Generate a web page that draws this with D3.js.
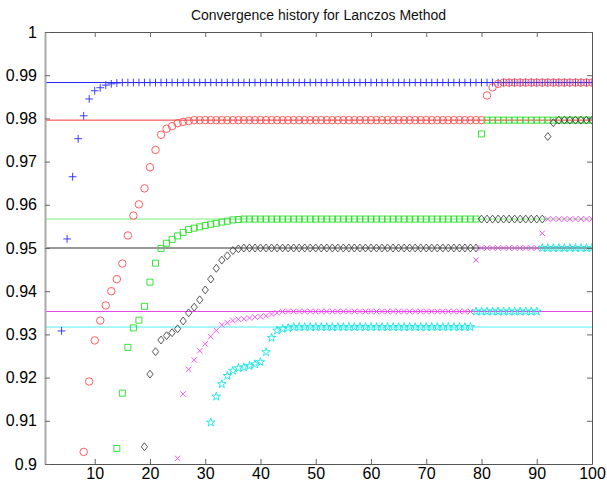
<!DOCTYPE html>
<html>
<head>
<meta charset="utf-8">
<script src="https://cdn.jsdelivr.net/npm/d3@7"></script>
<style>
  body { margin: 0; background: #fff; }
  svg { font-family: "Liberation Sans", Arial, sans-serif; }
</style>
</head>
<body>
<div id="chart"></div>
<script>
// SVG parameter
var svgWidth = 607;
var svgHeight = 486;

var margin = {
    top: 32,
    right: 15,
    bottom: 22,
    left: 45
};

var chartWidth = svgWidth - margin.left - margin.right;
var chartHeight = svgHeight - margin.top - margin.bottom;

// Tick values and labels
var xTicks = [10, 20, 30, 40, 50, 60, 70, 80, 90, 100];
var xTickLabels = ["10", "20", "30", "40", "50", "60", "70", "80", "90", "100"];
var yTicks = [0.9, 0.91, 0.92, 0.93, 0.94, 0.95, 0.96, 0.97, 0.98, 0.99, 1];
var yTickLabels = ["0.9", "0.91", "0.92", "0.93", "0.94", "0.95", "0.96", "0.97", "0.98", "0.99", "1"];

// Converged eigenvalues (horizontal reference lines)
var refValues = [0.9883, 0.9796, 0.9567, 0.9500, 0.9353, 0.9317];

// Ritz values per iteration, first visible iteration given by *Start
var blueStart = 4;
var blueVals = [
    0.9308, 0.9521, 0.9665, 0.9753, 0.9806, 0.9845, 0.9864, 0.9871, 0.9877, 0.9880, 0.9882,
    0.9883, 0.9883, 0.9883, 0.9883, 0.9883, 0.9883, 0.9883, 0.9883, 0.9883, 0.9883,
    0.9883, 0.9883, 0.9883, 0.9883, 0.9883, 0.9883, 0.9883, 0.9883, 0.9883, 0.9883,
    0.9883, 0.9883, 0.9883, 0.9883, 0.9883, 0.9883, 0.9883, 0.9883, 0.9883, 0.9883,
    0.9883, 0.9883, 0.9883, 0.9883, 0.9883, 0.9883, 0.9883, 0.9883, 0.9883, 0.9883,
    0.9883, 0.9883, 0.9883, 0.9883, 0.9883, 0.9883, 0.9883, 0.9883, 0.9883, 0.9883,
    0.9883, 0.9883, 0.9883, 0.9883, 0.9883, 0.9883, 0.9883, 0.9883, 0.9883, 0.9883,
    0.9883, 0.9883, 0.9883, 0.9883, 0.9883, 0.9883, 0.9883, 0.9883, 0.9883, 0.9883,
    0.9883, 0.9883, 0.9883, 0.9883, 0.9883, 0.9883, 0.9883, 0.9883, 0.9883, 0.9883,
    0.9883, 0.9883, 0.9883, 0.9883, 0.9883, 0.9883
];

var redStart = 8;
var redVals = [
    0.9028, 0.9191, 0.9286, 0.9332, 0.9367, 0.9400, 0.9428, 0.9464, 0.9529, 0.9575,
    0.9601, 0.9638, 0.9687, 0.9727, 0.9762, 0.9776, 0.9782, 0.9789, 0.9792, 0.9794,
    0.9796, 0.9796, 0.9796, 0.9796, 0.9796, 0.9796, 0.9796, 0.9796, 0.9796, 0.9796,
    0.9796, 0.9796, 0.9796, 0.9796, 0.9796, 0.9796, 0.9796, 0.9796, 0.9796, 0.9796,
    0.9796, 0.9796, 0.9796, 0.9796, 0.9796, 0.9796, 0.9796, 0.9796, 0.9796, 0.9796,
    0.9796, 0.9796, 0.9796, 0.9796, 0.9796, 0.9796, 0.9796, 0.9796, 0.9796, 0.9796,
    0.9796, 0.9796, 0.9796, 0.9796, 0.9796, 0.9796, 0.9796, 0.9796, 0.9796, 0.9796,
    0.9796, 0.9796, 0.9796,
    0.9853, 0.9872, 0.9880,
    0.9883, 0.9883, 0.9883, 0.9883, 0.9883, 0.9883, 0.9883, 0.9883, 0.9883, 0.9883,
    0.9883, 0.9883, 0.9883, 0.9883, 0.9883, 0.9883, 0.9883
];

var greenStart = 14;
var greenVals = [
    0.9036, 0.9164, 0.9270, 0.9315, 0.9333, 0.9365, 0.9421, 0.9465, 0.9499, 0.9511,
    0.9520, 0.9528, 0.9536, 0.9543, 0.9546, 0.9549, 0.9552, 0.9555, 0.9557, 0.9560,
    0.9562, 0.9565, 0.9566,
    0.9567, 0.9567, 0.9567, 0.9567, 0.9567, 0.9567, 0.9567, 0.9567, 0.9567, 0.9567,
    0.9567, 0.9567, 0.9567, 0.9567, 0.9567, 0.9567, 0.9567, 0.9567, 0.9567, 0.9567,
    0.9567, 0.9567, 0.9567, 0.9567, 0.9567, 0.9567, 0.9567, 0.9567, 0.9567, 0.9567,
    0.9567, 0.9567, 0.9567, 0.9567, 0.9567, 0.9567, 0.9567, 0.9567, 0.9567, 0.9567,
    0.9567, 0.9567, 0.9567,
    0.9764,
    0.9796, 0.9796, 0.9796, 0.9796, 0.9796, 0.9796, 0.9796, 0.9796, 0.9796, 0.9796,
    0.9796, 0.9796, 0.9796, 0.9796, 0.9796, 0.9796, 0.9796, 0.9796, 0.9796, 0.9796
];

var blackStart = 19;
var blackVals = [
    0.9040, 0.9208, 0.9260, 0.9287, 0.9297, 0.9304, 0.9313, 0.9331, 0.9350, 0.9363,
    0.9380, 0.9403, 0.9428, 0.9453, 0.9472, 0.9482, 0.9494, 0.9498,
    0.9500, 0.9500, 0.9500, 0.9500, 0.9500, 0.9500, 0.9500, 0.9500, 0.9500, 0.9500,
    0.9500, 0.9500, 0.9500, 0.9500, 0.9500, 0.9500, 0.9500, 0.9500, 0.9500, 0.9500,
    0.9500, 0.9500, 0.9500, 0.9500, 0.9500, 0.9500, 0.9500, 0.9500, 0.9500, 0.9500,
    0.9500, 0.9500, 0.9500, 0.9500, 0.9500, 0.9500, 0.9500, 0.9500, 0.9500, 0.9500,
    0.9500, 0.9500, 0.9500,
    0.9567, 0.9567, 0.9567, 0.9567, 0.9567, 0.9567, 0.9567, 0.9567, 0.9567, 0.9567,
    0.9567, 0.9567,
    0.9758, 0.9790,
    0.9796, 0.9796, 0.9796, 0.9796, 0.9796, 0.9796, 0.9796
];

var magentaStart = 25;
var magentaVals = [
    0.9013, 0.9162, 0.9219, 0.9241, 0.9262, 0.9278, 0.9295, 0.9309, 0.9322, 0.9327,
    0.9332, 0.9335, 0.9336, 0.9338, 0.9340, 0.9341, 0.9343, 0.9347, 0.9350,
    0.9353, 0.9353, 0.9353, 0.9353, 0.9353, 0.9353, 0.9353, 0.9353, 0.9353, 0.9353,
    0.9353, 0.9353, 0.9353, 0.9353, 0.9353, 0.9353, 0.9353, 0.9353, 0.9353, 0.9353,
    0.9353, 0.9353, 0.9353, 0.9353, 0.9353, 0.9353, 0.9353, 0.9353, 0.9353, 0.9353,
    0.9353, 0.9353, 0.9353, 0.9353, 0.9353,
    0.9472,
    0.9500, 0.9500, 0.9500, 0.9500, 0.9500, 0.9500, 0.9500, 0.9500, 0.9500, 0.9500,
    0.9500,
    0.9534,
    0.9567, 0.9567, 0.9567, 0.9567, 0.9567, 0.9567, 0.9567, 0.9567, 0.9567
];

var cyanStart = 31;
var cyanVals = [
    0.9096, 0.9156, 0.9185, 0.9204, 0.9216, 0.9222, 0.9224, 0.9227, 0.9231, 0.9236,
    0.9259, 0.9292, 0.9309, 0.9313, 0.9315,
    0.9317, 0.9317, 0.9317, 0.9317, 0.9317, 0.9317, 0.9317, 0.9317, 0.9317, 0.9317,
    0.9317, 0.9317, 0.9317, 0.9317, 0.9317, 0.9317, 0.9317, 0.9317, 0.9317, 0.9317,
    0.9317, 0.9317, 0.9317, 0.9317, 0.9317, 0.9317, 0.9317, 0.9317, 0.9317, 0.9317,
    0.9317, 0.9317, 0.9317,
    0.9353, 0.9353, 0.9353, 0.9353, 0.9353, 0.9353, 0.9353, 0.9353, 0.9353, 0.9353,
    0.9353, 0.9353,
    0.9500, 0.9500, 0.9500, 0.9500, 0.9500, 0.9500, 0.9500, 0.9500, 0.9500, 0.9500
];

// custom marker shapes (matlab style)
var symPlus = {
    draw: function(ctx, size) {
        var r = Math.sqrt(size) / 2;
        ctx.moveTo(-r, 0); ctx.lineTo(r, 0);
        ctx.moveTo(0, -r); ctx.lineTo(0, r);
    }
};
var symTimes = {
    draw: function(ctx, size) {
        var r = Math.sqrt(size) / 2;
        ctx.moveTo(-r, -r); ctx.lineTo(r, r);
        ctx.moveTo(-r, r); ctx.lineTo(r, -r);
    }
};
var symDiamond = {
    draw: function(ctx, size) {
        var w = Math.sqrt(size) / 2, h = w * 1.25;
        ctx.moveTo(0, -h); ctx.lineTo(w, 0); ctx.lineTo(0, h); ctx.lineTo(-w, 0); ctx.closePath();
    }
};

var series = [
    {start: blueStart, vals: blueVals, color: "#2a2aff", line: "#1f1fff", type: symPlus, size: 60},
    {start: redStart, vals: redVals, color: "#ff4d4d", line: "#ff3333", type: d3.symbolCircle, size: 44},
    {start: greenStart, vals: greenVals, color: "#22e022", line: "#7cf07c", type: d3.symbolSquare, size: 36},
    {start: blackStart, vals: blackVals, color: "#444444", line: "#333333", type: symDiamond, size: 40},
    {start: magentaStart, vals: magentaVals, color: "#ff44ff", line: "#e846e8", type: symTimes, size: 30},
    {start: cyanStart, vals: cyanVals, color: "#14e6e6", line: "#55eeee", type: d3.symbolStar, size: 22}
];

var svg = d3.select("#chart")
    .append("svg")
    .attr("width", svgWidth)
    .attr("height", svgHeight);

var chartGroup = svg.append("g")
    .attr("transform", `translate(${margin.left}, ${margin.top})`);

var xScale = d3.scaleLinear().domain([1, 100]).range([0, chartWidth]);
var yScale = d3.scaleLinear().domain([0.9, 1]).range([chartHeight, 0]);

// clip
svg.append("defs").append("clipPath").attr("id", "clip")
    .append("rect").attr("x", 0).attr("y", 0)
    .attr("width", chartWidth).attr("height", chartHeight);

var plotArea = chartGroup.append("g").attr("clip-path", "url(#clip)");

// reference lines
plotArea.selectAll(".ref")
    .data(refValues)
    .enter()
    .append("line")
    .attr("x1", 0)
    .attr("x2", chartWidth)
    .attr("y1", d => yScale(d))
    .attr("y2", d => yScale(d))
    .attr("stroke", (d, i) => series[i].line)
    .attr("stroke-width", 1);

// markers
series.forEach(s => {
    var pts = s.vals.map((v, i) => ({x: s.start + i, y: v}));
    var sym = d3.symbol().type(s.type).size(s.size);
    plotArea.append("g")
        .selectAll("path")
        .data(pts)
        .enter()
        .append("path")
        .attr("d", sym)
        .attr("transform", d => `translate(${xScale(d.x)}, ${yScale(d.y)})`)
        .attr("fill", "none")
        .attr("stroke", s.color)
        .attr("stroke-width", 0.9);
});

// axes
var bottomAxis = d3.axisBottom(xScale).tickValues(xTicks)
    .tickFormat((d, i) => xTickLabels[i]).tickSizeInner(-5).tickSizeOuter(0).tickPadding(4);
var topAxis = d3.axisTop(xScale).tickValues(xTicks).tickFormat("")
    .tickSizeInner(-5).tickSizeOuter(0);
var leftAxis = d3.axisLeft(yScale).tickValues(yTicks)
    .tickFormat((d, i) => yTickLabels[i]).tickSizeInner(-5).tickSizeOuter(0).tickPadding(8);
var rightAxis = d3.axisRight(yScale).tickValues(yTicks).tickFormat("")
    .tickSizeInner(-5).tickSizeOuter(0);

var xAxis = chartGroup.append("g")
    .attr("transform", `translate(0, ${chartHeight})`)
    .call(bottomAxis);
var xAxisTop = chartGroup.append("g").call(topAxis);
var yAxis = chartGroup.append("g").call(leftAxis);
var yAxisRight = chartGroup.append("g")
    .attr("transform", `translate(${chartWidth}, 0)`)
    .call(rightAxis);

[xAxis, xAxisTop, yAxis, yAxisRight].forEach(a => {
    a.select(".domain").attr("stroke", "#555");
    a.selectAll(".tick line").attr("stroke", "#666");
    a.selectAll("text")
        .attr("fill", "#000")
        .style("font-size", "16px")
        .style("font-family", "Liberation Sans, Arial, sans-serif");
});
yAxis.select(".domain").attr("stroke", "#aaa").attr("stroke-width", 2);

// title
svg.append("text")
    .attr("x", margin.left + chartWidth / 2)
    .attr("y", 20)
    .attr("text-anchor", "middle")
    .style("font-size", "14px")
    .attr("fill", "#111")
    .text("Convergence history for Lanczos Method");
</script>
</body>
</html>
